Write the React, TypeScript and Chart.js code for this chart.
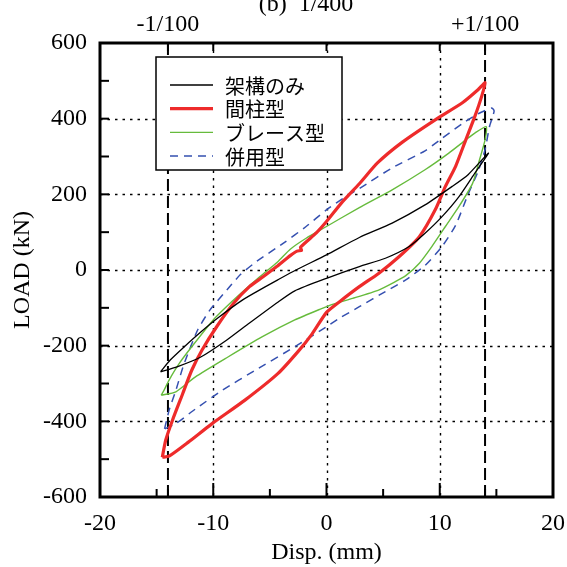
import React, { useEffect, useRef } from 'react';
import { Chart, registerables } from 'chart.js';

Chart.register(...registerables);

// ---- data (mm, kN) ----
const frameX = [-14.65, -13.8, -12.6, -11.1, -9.6, -7.4, -5.5, -4.3, -2.7, 0, 2.9, 5.8, 8.7, 11.1, 12.5, 14.3,
  13.1, 11.7, 10.2, 8.7, 7.3, 5.2, 2.9, 0, -2.8, -4.3, -6.8, -8.8, -11.1, -13.2, -14.65];
const frameY = [-269, -238, -204, -164, -127, -79, -46, -26, 0, 40, 86, 124, 172, 221, 252, 309,
  256, 194, 141, 97, 62, 31, 9, -22, -55, -85, -140, -185, -230, -256, -269];

const studX = [-14.5, -14.2, -13.6, -12.7, -11.9, -11.0, -9.7, -8.2, -6.8, -5.6, -4.4, -3.2, -2.6, -2.2, -2.3, -0.9, 0, 1.4, 2.9, 4.5, 6.7, 9.6, 12.0, 13.4, 14.0,
  13.7, 13.1, 12.3, 11.4, 10.5, 9.6, 8.2, 6.4, 4.6, 2.9, 1.1, 0, -1.3, -2.5, -4.3, -7.2, -10.1, -12.2, -13.9, -14.5];
const studY = [-495, -450, -397, -327, -265, -212, -150, -88, -44, -18, 9, 38, 50, 52, 60, 98, 128, 180, 228, 283, 338, 397, 442, 477, 495,
  459, 406, 344, 274, 221, 159, 88, 35, -9, -44, -85, -112, -170, -215, -274, -344, -406, -455, -492, -495];

const braceX = [-14.6, -14.35, -13.9, -13.0, -11.9, -10.0, -7.9, -5.9, -4.3, -3.2, -1.8, 0, 2.9, 5.8, 8.7, 10.8, 12.3, 13.1, 14.1,
  14.0, 13.5, 12.9, 11.7, 10.5, 9.3, 8.2, 7.0, 6.0, 4.6, 2.3, 0.6, -0.6, -2.8, -5.7, -8.7, -11.6, -13.3, -14.6];
const braceY = [-331, -318, -291, -247, -203, -132, -71, -18, 22, 55, 84, 115, 165, 212, 265, 309, 344, 362, 379,
  344, 290, 229, 168, 115, 62, 18, -15, -32, -53, -75, -90, -104, -132, -177, -230, -283, -322, -331];

const combX = [-14.3, -13.9, -13.3, -12.6, -11.4, -10.3, -8.8, -7.6, -6.2, -3.8, -1.8, 0, 1.7, 2.9, 5.8, 8.7, 10.2, 12.0, 13.4, 14.6, 14.8,
  14.4, 14.0, 13.4, 12.5, 11.4, 10.2, 8.7, 7.0, 5.2, 2.9, 1.1, 0, -2.8, -6.3, -9.2, -11.6, -13.3, -14.3];
const combY = [-420, -371, -318, -250, -160, -106, -53, -12, 22, 71, 115, 159, 194, 215, 270, 315, 348, 387, 413, 428, 420,
  380, 318, 262, 200, 118, 62, 12, -26, -57, -97, -128, -150, -203, -265, -318, -368, -406, -420];

const seriesLabels = ['架構のみ', '間柱型', 'ブレース型', '併用型'];

const xTicks = [-20, -10, 0, 10, 20];
const yTicks = [-600, -400, -200, 0, 200, 400, 600];
const gridX = [-10, 0, 10];
const gridY = [-400, -200, 0, 200, 400];
const driftX = [-14, 14];
const driftLabels = ['-1/100', '+1/100'];
const xMinor = [-15, -5, 5, 15];
const xMajor = [-10, 0, 10];
const yInner = [-500, -400, -300, -200, -100, 0, 100, 200, 300, 400, 500];
const topTicks = [-14, -10, 0, 10, 14];
const titleText = '(b)  1/400';

const SERIF = '"Liberation Serif", "Times New Roman", serif';
const JP = '"Noto Sans CJK JP", sans-serif';

function pts(xs: number[], ys: number[]) {
  return xs.map((x, i) => ({ x, y: ys[i] }));
}

const decor = {
  id: 'decor',
  beforeDatasetsDraw(chart: any) {
    const { ctx, chartArea: a, scales } = chart;
    const x = scales.x, y = scales.y;
    ctx.save();
    ctx.strokeStyle = '#000';
    ctx.lineWidth = 1.4;
    ctx.setLineDash([2.5, 5]);
    gridX.forEach((v) => {
      const p = Math.round(x.getPixelForValue(v)) + 0.5;
      ctx.beginPath(); ctx.moveTo(p, a.top); ctx.lineTo(p, a.bottom); ctx.stroke();
    });
    gridY.forEach((v) => {
      const p = Math.round(y.getPixelForValue(v)) + 0.5;
      ctx.beginPath(); ctx.moveTo(a.left, p); ctx.lineTo(a.right, p); ctx.stroke();
    });
    ctx.setLineDash([12, 5]);
    ctx.lineWidth = 2;
    driftX.forEach((v) => {
      const p = x.getPixelForValue(v);
      ctx.beginPath(); ctx.moveTo(p, a.top); ctx.lineTo(p, a.bottom); ctx.stroke();
    });
    ctx.restore();
  },
  afterDatasetsDraw(chart: any) {
    const { ctx, chartArea: a, scales } = chart;
    const x = scales.x, y = scales.y;
    ctx.save();
    ctx.setLineDash([]);
    ctx.strokeStyle = '#000';
    ctx.lineWidth = 2;
    const vline = (px: number, y0: number, y1: number) => { ctx.beginPath(); ctx.moveTo(px, y0); ctx.lineTo(px, y1); ctx.stroke(); };
    xMajor.forEach((v) => vline(x.getPixelForValue(v), a.bottom, a.bottom - 14));
    xMinor.forEach((v) => vline(x.getPixelForValue(v), a.bottom, a.bottom - 8));
    driftX.forEach((v) => vline(x.getPixelForValue(v), a.bottom, a.bottom - 8));
    topTicks.forEach((v) => vline(x.getPixelForValue(v), a.top, a.top + 8));
    yInner.forEach((v) => {
      const p = y.getPixelForValue(v);
      ctx.beginPath(); ctx.moveTo(a.left, p); ctx.lineTo(a.left + 9, p); ctx.stroke();
    });
    ctx.lineWidth = 3;
    ctx.strokeRect(a.left, a.top, a.right - a.left, a.bottom - a.top);

    // legend
    const bx = 156, by = 57, bw = 186, bh = 113;
    ctx.fillStyle = '#fff';
    ctx.fillRect(bx, by, bw, bh);
    ctx.lineWidth = 1.5;
    ctx.strokeRect(bx, by, bw, bh);
    ctx.font = `20px ${JP}`;
    ctx.textBaseline = 'middle';
    ctx.textAlign = 'left';
    chart.data.datasets.forEach((ds: any, i: number) => {
      const ry = by + 28 + i * 23.7;
      ctx.strokeStyle = ds.borderColor;
      ctx.lineWidth = ds.borderWidth;
      ctx.setLineDash(ds.borderDash || []);
      ctx.beginPath(); ctx.moveTo(170, ry); ctx.lineTo(213, ry); ctx.stroke();
      ctx.setLineDash([]);
      ctx.fillStyle = '#000';
      ctx.fillText(ds.label, 225, ry + 1);
    });

    ctx.fillStyle = '#000';
    ctx.font = `24px ${SERIF}`;
    ctx.textAlign = 'center';
    ctx.textBaseline = 'alphabetic';
    driftX.forEach((v, i) => ctx.fillText(driftLabels[i], x.getPixelForValue(v), 31));
    ctx.fillText(titleText, 306, 11);
    ctx.restore();
  },
};

export default function App() {
  const ref = useRef<HTMLCanvasElement | null>(null);
  useEffect(() => {
    if (!ref.current) return;
    const font = { family: SERIF, size: 24 };
    const zeroPad = (s: any) => { s.paddingLeft = 0; s.paddingRight = 0; s.paddingTop = 0; s.paddingBottom = 0; };
    const chart = new Chart(ref.current, {
      type: 'scatter',
      data: {
        datasets: [
          { label: seriesLabels[0], data: pts(frameX, frameY), borderColor: '#000000', borderWidth: 1.3 },
          { label: seriesLabels[1], data: pts(studX, studY), borderColor: '#ee2b2b', borderWidth: 3.2 },
          { label: seriesLabels[2], data: pts(braceX, braceY), borderColor: '#66bb3c', borderWidth: 1.4 },
          { label: seriesLabels[3], data: pts(combX, combY), borderColor: '#3550b0', borderWidth: 1.5, borderDash: [8, 6] },
        ].map((d) => ({ ...d, showLine: true, pointRadius: 0, fill: false, tension: 0.2, backgroundColor: d.borderColor })),
      },
      options: {
        responsive: false,
        animation: false,
        events: [],
        layout: { padding: { top: 43, right: 14, left: 0, bottom: 0 } },
        plugins: { legend: { display: false }, tooltip: { enabled: false }, title: { display: false } },
        scales: {
          x: {
            type: 'linear', min: -20, max: 20,
            afterBuildTicks: (s: any) => { s.ticks = xTicks.map((v) => ({ value: v })); },
            grid: { display: false, drawTicks: false },
            border: { display: false },
            ticks: { font, color: '#000', padding: 12, maxRotation: 0, autoSkip: false },
            title: { display: true, text: 'Disp. (mm)', font, color: '#000', padding: { top: 2, bottom: 0 } },
            afterFit: (s: any) => { s.height = 70; zeroPad(s); },
          },
          y: {
            type: 'linear', min: -600, max: 600,
            afterBuildTicks: (s: any) => { s.ticks = yTicks.map((v) => ({ value: v })); },
            grid: { display: false, drawTicks: false },
            border: { display: false },
            ticks: { font, color: '#000', padding: 13, autoSkip: false },
            title: { display: true, text: 'LOAD (kN)', font, color: '#000', padding: { top: 8, bottom: 0 } },
            afterFit: (s: any) => { s.width = 100; zeroPad(s); },
          },
        },
      },
      plugins: [decor],
    } as any);
    return () => chart.destroy();
  }, []);
  return (
    <div style={{ position: 'absolute', left: 0, top: 0, width: 567, height: 567, background: '#fff' }}>
      <canvas ref={ref} width={567} height={567} style={{ display: 'block', width: 567, height: 567 }} />
    </div>
  );
}
